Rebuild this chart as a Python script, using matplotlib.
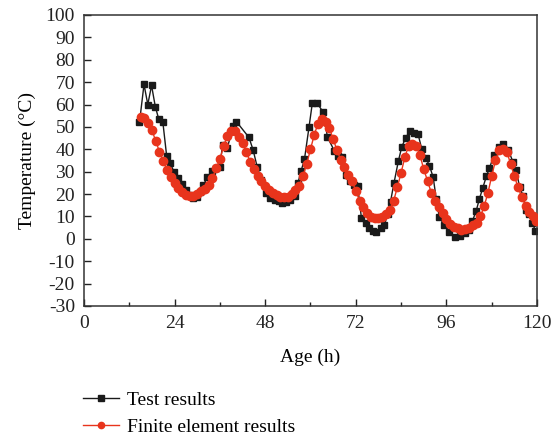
import matplotlib
matplotlib.use("Agg")
import matplotlib.pyplot as plt
from matplotlib.ticker import MultipleLocator

plt.rcParams['font.family'] = ['Liberation Serif', 'DejaVu Serif']
plt.rcParams['axes.unicode_minus'] = False

# Measured temperatures (test)
test_age = [14.7, 15.9, 16.9, 17.9, 18.9, 19.8, 20.9, 21.9, 22.8, 23.8, 24.8, 25.9,
            26.9, 27.9, 28.9, 29.9, 30.8, 31.6, 32.7, 34.0, 35.1, 36.0, 36.7, 38.0,
            39.5, 40.4, 43.7, 44.8, 45.9, 47.0, 48.1, 49.4, 50.7, 51.6, 52.5, 53.6,
            54.7, 55.8, 56.7, 57.5, 58.4, 59.6, 60.5, 61.8, 63.4, 64.5, 66.3, 67.4,
            68.4, 69.4, 70.4, 71.4, 72.5, 73.5, 74.6, 75.6, 76.5, 77.4, 78.6, 79.6,
            80.4, 81.2, 82.1, 83.3, 84.2, 85.2, 86.3, 87.4, 88.5, 89.5, 90.6, 91.5,
            92.5, 93.3, 94.1, 95.4, 96.8, 98.2, 99.6, 100.9, 101.9, 102.9, 103.9,
            104.7, 105.6, 106.6, 107.4, 108.6, 109.9, 111.1, 112.4, 113.6, 114.5,
            115.4, 116.4, 117.1, 117.8, 118.8, 119.6]
test_temp = [52.0, 69.0, 60.0, 68.5, 59.0, 53.5, 52.0, 37.0, 34.0, 30.0, 27.0, 24.5,
             22.0, 19.5, 18.3, 18.5, 21.0, 24.0, 27.5, 30.4, 31.5, 32.2, 41.9, 40.7,
             50.5, 52.3, 45.3, 39.7, 32.0, 26.3, 20.6, 18.1, 17.3, 16.8, 15.9, 16.5,
             17.5, 19.1, 25.1, 30.3, 35.5, 49.8, 60.8, 60.5, 56.5, 45.4, 39.4, 37.0,
             36.4, 28.5, 26.0, 24.0, 23.6, 9.2, 6.9, 4.7, 3.5, 3.2, 4.7, 6.2,
             11.0, 16.6, 24.8, 34.9, 41.2, 45.0, 48.3, 47.4, 46.7, 40.0, 36.0, 32.7,
             27.5, 18.0, 9.9, 6.2, 3.2, 0.7, 1.2, 2.4, 4.0, 8.0, 12.5,
             17.6, 22.5, 28.0, 31.5, 37.5, 41.0, 42.5, 39.7, 34.5, 30.7,
             23.0, 19.0, 13.0, 11.2, 7.0, 3.5]

# Simulated temperatures (finite element model)
fe_age = [15, 16, 17, 18, 19, 20, 21, 22, 23, 24, 25, 26, 27, 28, 29, 30, 31, 32,
          33, 34, 35, 36, 37, 38, 39, 40, 41, 42, 43, 44, 45, 46, 47, 48, 49, 50,
          51, 52, 53, 54, 55, 56, 57, 58, 59, 60, 61, 62, 63, 64, 65, 66, 67, 68,
          69, 70, 71, 72, 73, 74, 75, 76, 77, 78, 79, 80, 81, 82, 83, 84, 85, 86,
          87, 88, 89, 90, 91, 92, 93, 94, 95, 96, 97, 98, 99, 100, 101, 102, 103,
          104, 105, 106, 107, 108, 109, 110, 111, 112, 113, 114, 115, 116, 117,
          118, 119, 119.7]
fe_temp = [54.6, 53.8, 51.9, 48.6, 43.7, 38.9, 34.8, 30.7, 27.5, 24.8, 22.6, 20.8,
           19.6, 19.0, 19.1, 20.0, 21.2, 22.3, 24.0, 27.0, 31.5, 35.5, 41.5, 46.0,
           48.3, 48.2, 45.6, 42.6, 38.8, 34.5, 31.0, 28.0, 25.8, 23.6, 21.8, 20.6,
           19.6, 18.8, 18.5, 18.8, 20.0, 21.8, 23.8, 28.0, 33.5, 40.0, 46.5, 51.5,
           53.4, 52.0, 49.5, 44.5, 39.8, 35.2, 32.0, 28.5, 25.8, 21.5, 17.0, 14.0,
           11.5, 9.8, 9.2, 9.2, 9.7, 11.0, 13.0, 16.8, 23.0, 29.5, 36.5, 41.5,
           42.4, 41.5, 37.5, 31.0, 26.0, 20.5, 17.0, 14.2, 11.5, 9.0, 6.8, 5.5,
           4.7, 4.0, 4.2, 5.0, 6.0, 7.2, 10.0, 14.5, 20.5, 28.0, 35.0, 39.5, 40.0,
           39.0, 33.5, 28.0, 23.0, 18.5, 14.8, 12.0, 10.0, 8.0]

x_ticks = [0, 24, 48, 72, 96, 120]
y_ticks = list(range(-30, 101, 10))

FS = 14

fig = plt.figure(figsize=(5.54, 4.43), dpi=100)
ax = fig.add_axes([0.1516, 0.3093, 0.8177, 0.6569])

ax.plot(test_age, test_temp, color='#1a1a1a', lw=1.0, marker='s', ms=5,
        mec='#1a1a1a', mfc='#1a1a1a', label='Test results', zorder=2)
ax.plot(fe_age, fe_temp, color='#e8341c', lw=1.0, marker='o', ms=6,
        mec='#e8341c', mfc='#e8341c', label='Finite element results', zorder=3)

ax.set_xlim(0, 120)
ax.set_ylim(-30, 100)
ax.set_xticks(x_ticks)
ax.xaxis.set_minor_locator(MultipleLocator(12))
ax.set_yticks(y_ticks)
ax.tick_params(which='both', direction='in', labelsize=FS, colors='#222222',
               top=False, right=False)
ax.tick_params(axis='x', which='both', pad=6.5)
ax.tick_params(axis='y', which='both', pad=6.5)
ax.tick_params(which='major', length=5, width=1)
ax.tick_params(which='minor', length=3, width=1)
for s in ax.spines.values():
    s.set_color('#333333')
    s.set_linewidth(1.1)

ax.set_xlabel('Age (h)', fontsize=FS, labelpad=12)
ax.set_ylabel('Temperature (°C)', fontsize=FS, labelpad=7)

fig.legend(loc='upper left', bbox_to_anchor=(0.136, 0.135), frameon=False,
           fontsize=FS, handlelength=1.86, handletextpad=0.4, labelspacing=0.5,
           borderaxespad=0, markerscale=0.75)

fig.savefig('out.png', dpi=100)
